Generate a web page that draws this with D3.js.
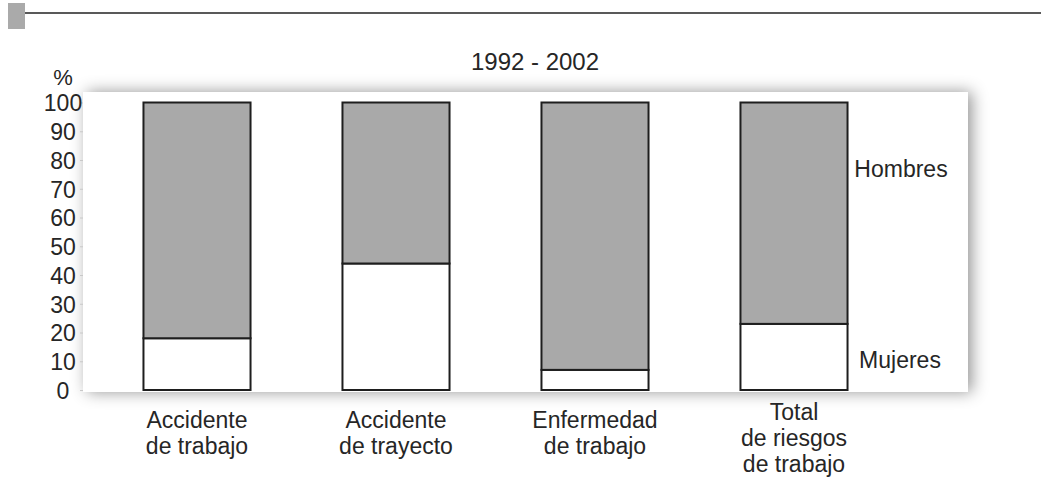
<!DOCTYPE html>
<html>
<head>
<meta charset="utf-8">
<script src="https://cdn.jsdelivr.net/npm/d3@7"></script>
<style>
  html, body { margin: 0; padding: 0; background: #fff; }
  svg { display: block; }
  text { font-family: "Liberation Sans", Arial, sans-serif; fill: #262626; }
</style>
</head>
<body>
<svg id="chart" width="1041" height="483"></svg>
<script>
// ---- data ----
const categories = [
  ["Accidente", "de trabajo"],
  ["Accidente", "de trayecto"],
  ["Enfermedad", "de trabajo"],
  ["Total", "de riesgos", "de trabajo"]
];
const mujeres = [18, 44, 7, 23];
const hombres = [82, 56, 93, 77];
const yTicks = [0, 10, 20, 30, 40, 50, 60, 70, 80, 90, 100];
const title = "1992 - 2002";
const seriesNames = ["Hombres", "Mujeres"];

// ---- layout ----
const svg = d3.select("#chart");
const W = 1041, H = 483;
const FS = "23px";

// header
svg.append("rect").attr("x", 8).attr("y", 3).attr("width", 17).attr("height", 26).attr("fill", "#aaaaaa");
svg.append("line").attr("x1", 25).attr("x2", W).attr("y1", 13).attr("y2", 13)
  .attr("stroke", "#222").attr("stroke-width", 1.6);

// panel with shadow
const defs = svg.append("defs");
const f = defs.append("filter").attr("id", "shadow").attr("x", "-10%").attr("y", "-25%").attr("width", "120%").attr("height", "150%");
f.append("feDropShadow").attr("dx", 4).attr("dy", 0).attr("stdDeviation", 8)
  .attr("flood-color", "#000").attr("flood-opacity", 0.42);

const panel = { x: 83, y: 92, w: 885, h: 300 };
svg.append("rect").attr("x", panel.x).attr("y", panel.y).attr("width", panel.w).attr("height", panel.h)
  .attr("fill", "#fff").attr("filter", "url(#shadow)");

const y = d3.scaleLinear().domain([0, 100]).range([390, 102.5]);
const x = d3.scaleBand().domain(d3.range(categories.length))
  .range([97.5, 893.5]).paddingInner(0.462).paddingOuter(0.231);

// title
svg.append("text").attr("x", 535).attr("y", 70).attr("text-anchor", "middle")
  .style("font-size", "24px").text(title);

// y axis
const yAxis = d3.axisLeft(y).tickValues(yTicks).tickSize(3).tickPadding(0).tickFormat(d3.format("d"));
const ga = svg.append("g").attr("transform", "translate(83,0)").call(yAxis);
ga.select(".domain").remove();
ga.selectAll(".tick line").attr("stroke", "#c8c8c8");
ga.selectAll(".tick text")
  .attr("x", -20).attr("text-anchor", "middle").attr("dy", "0.36em")
  .style("font-size", FS).style("font-family", "'Liberation Sans', Arial, sans-serif").attr("fill", "#262626");
svg.append("text").attr("x", 63).attr("y", 85).attr("text-anchor", "middle")
  .style("font-size", "22px").text("%");

// bars
const g = svg.append("g");
categories.forEach((c, i) => {
  const bx = x(i), bw = x.bandwidth();
  g.append("rect").attr("x", bx).attr("y", y(mujeres[i])).attr("width", bw)
    .attr("height", y(0) - y(mujeres[i]))
    .attr("fill", "#ffffff").attr("stroke", "#1e1e1e").attr("stroke-width", 2);
  g.append("rect").attr("x", bx).attr("y", y(mujeres[i] + hombres[i])).attr("width", bw)
    .attr("height", y(mujeres[i]) - y(mujeres[i] + hombres[i]))
    .attr("fill", "#a9a9a9").attr("stroke", "#1e1e1e").attr("stroke-width", 2);
});

// category labels
categories.forEach((lines, i) => {
  const cx = x(i) + x.bandwidth() / 2;
  const y0 = 444 - 8 * lines.length;
  const t = svg.append("text").attr("text-anchor", "middle").style("font-size", FS);
  lines.forEach((ln, k) => {
    t.append("tspan").attr("x", cx).attr("y", y0 + k * 26).text(ln);
  });
});

// series labels
svg.append("text").attr("x", 901).attr("y", y(77)).attr("dy", "0.36em").attr("text-anchor", "middle")
  .style("font-size", FS).text(seriesNames[0]);
svg.append("text").attr("x", 900).attr("y", y(10.5)).attr("dy", "0.36em").attr("text-anchor", "middle")
  .style("font-size", FS).text(seriesNames[1]);
</script>
</body>
</html>
